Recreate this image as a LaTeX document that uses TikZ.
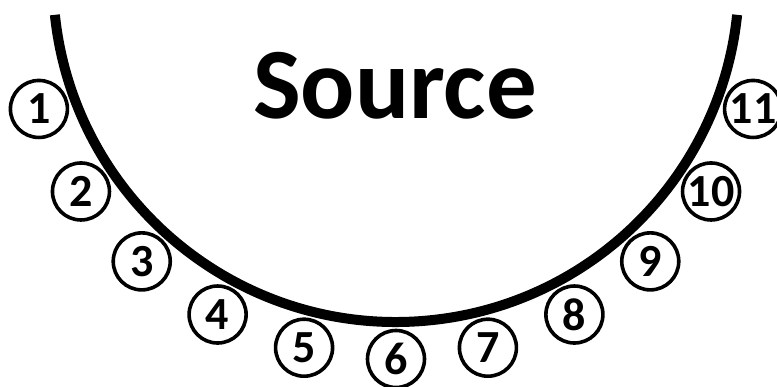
\documentclass[tikz,border=0pt]{standalone}
\usepackage{fontspec}
\setmainfont{Carlito}
\usetikzlibrary{calc}
\tikzset{
    halo diagram/.style = {x=1pt, y=1pt},
    rim/.style          = {line width=10pt},
    port/.style         = {draw, circle, line width=3.6pt, inner sep=0pt,
                           minimum size=57pt,
                           font=\fontsize{46}{46}\selectfont\bfseries},
    title/.style        = {font=\fontsize{101}{101}\selectfont\bfseries,
                           inner sep=0pt}
}
\begin{document}
\begin{tikzpicture}[halo diagram]
\useasboundingbox (0,0) rectangle (777,387);

% ================= Source rim =================
\coordinate (centre) at (396, 408);
\draw[rim] (centre) ++(186:343) arc[start angle=186, end angle=354, radius=343];
\node[title, anchor=base] (source) at (395, 268) {Source};

% ================= Numbered ports =================
\foreach \i in {1,...,11}
    \path (centre) ++({200+14*(\i-1)}:380) node[port] (p\i) {\i};

\end{tikzpicture}
\end{document}
